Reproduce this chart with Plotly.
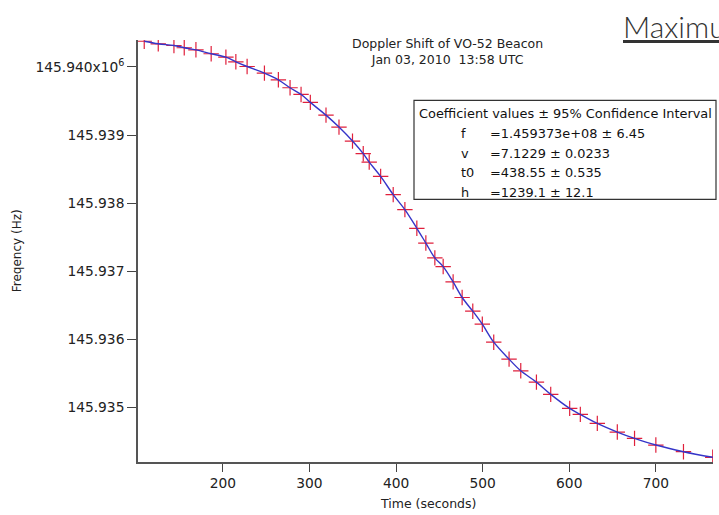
import plotly.graph_objects as go

time_s = [109.2, 125.4, 143.5, 155.4, 168.9, 186.5, 203.5, 215.0, 228.0, 248.0,
          264.1, 277.6, 290.3, 301.0, 319.1, 334.1, 349.7, 362.1, 369.0, 382.2,
          396.7, 410.2, 424.0, 434.4, 444.8, 454.4, 465.9, 476.3, 488.6, 499.6,
          512.8, 530.5, 544.0, 562.1, 578.6, 600.5, 612.8, 632.4, 655.5, 675.4,
          700.0, 731.9, 765.7]
freq_hz = [145940378, 145940340, 145940315, 145940282, 145940252, 145940194,
           145940144, 145940076, 145940007, 145939909, 145939812, 145939695,
           145939597, 145939480, 145939293, 145939117, 145938912, 145938727,
           145938604, 145938394, 145938126, 145937906, 145937632, 145937415,
           145937197, 145937070, 145936845, 145936616, 145936415, 145936224,
           145935960, 145935711, 145935540, 145935374, 145935194, 145934988,
           145934900, 145934768, 145934641, 145934548, 145934450, 145934352,
           145934270]

x_ticks = [200, 300, 400, 500, 600, 700]
y_ticks = [145935000, 145936000, 145937000, 145938000, 145939000, 145940000]
y_ticktext = ["145.935", "145.936", "145.937", "145.938", "145.939",
              "145.940x10<sup>6</sup>"]

title_lines = ["Doppler Shift of VO-52 Beacon", "Jan 03, 2010  13:58 UTC"]
coef_header = "Coefficient values \u00b1 95% Confidence Interval"
coef_names = ["f", "v", "t0", "h"]
coef_values = ["=1.459373e+08 \u00b1 6.45", "=7.1229 \u00b1 0.0233",
               "=438.55 \u00b1 0.535", "=1239.1 \u00b1 12.1"]

FONT = "DejaVu Sans"
W, H = 719, 515
L, R, T, B = 138, 6, 39.5, 53
pw = W - L - R
ph = H - T - B


def px(xp):
    return (xp - L) / pw


def py(yp):
    return (H - B - yp) / ph


fig = go.Figure()
fig.add_trace(go.Scatter(
    x=time_s, y=freq_hz, mode="markers",
    marker=dict(symbol="cross-thin", size=11,
                line=dict(color="#e0203c", width=1.2)),
    showlegend=False, hoverinfo="x+y"))
fig.add_trace(go.Scatter(
    x=time_s, y=freq_hz, mode="lines",
    line=dict(color="#3535c8", width=1.4, shape="spline"),
    showlegend=False, hoverinfo="skip"))

fig.update_layout(
    width=W, height=H,
    margin=dict(l=L, r=R, t=T, b=B),
    paper_bgcolor="white", plot_bgcolor="white",
    font=dict(family=FONT, size=13, color="#222"),
    xaxis=dict(range=[102, 766], tickvals=x_ticks, ticks="outside",
               ticklen=8, tickwidth=1.3, tickcolor="#444",
               showline=True, linecolor="#555", linewidth=1.6,
               showgrid=False, zeroline=False,
               tickfont=dict(size=13.8, family=FONT, color="#222")),
    yaxis=dict(range=[145934201, 145940396], tickvals=y_ticks,
               ticktext=y_ticktext, ticks="outside", ticklen=9,
               tickwidth=1.3, tickcolor="#444",
               showline=True, linecolor="#555", linewidth=1.6,
               showgrid=False, zeroline=False,
               tickfont=dict(size=13.8, family=FONT, color="#222")),
)

ann = []
# title
ann.append(dict(text="<br>".join(title_lines), x=px(447), y=py(51),
                xref="paper", yref="paper", showarrow=False,
                xanchor="center", yanchor="middle", align="center",
                font=dict(size=12.5, family=FONT, color="#222")))
# axis titles
ann.append(dict(text="Time (seconds)", x=px(428), y=py(504), xref="paper",
                yref="paper", showarrow=False, xanchor="center",
                yanchor="middle", font=dict(size=12.5, family=FONT, color="#222")))
ann.append(dict(text="Freqency (Hz)", x=px(17), y=py(251), xref="paper",
                yref="paper", showarrow=False, xanchor="center",
                yanchor="middle", textangle=-90,
                font=dict(size=12, family=FONT, color="#222")))
# coefficient box
ann.append(dict(text=coef_header, x=px(416.5), y=py(112.7), xref="paper",
                yref="paper", showarrow=False, xanchor="left",
                yanchor="middle", font=dict(size=12.9, family=FONT, color="#111")))
row_y = [132.8, 152.8, 172.0, 191.7]
for name, val, yy in zip(coef_names, coef_values, row_y):
    ann.append(dict(text=name, x=px(459), y=py(yy), xref="paper",
                    yref="paper", showarrow=False, xanchor="left",
                    yanchor="middle", font=dict(size=12.9, family=FONT, color="#111")))
    ann.append(dict(text=val, x=px(487.5), y=py(yy), xref="paper",
                    yref="paper", showarrow=False, xanchor="left",
                    yanchor="middle", font=dict(size=12.9, family=FONT, color="#111")))
# slide heading (cut off at the right edge)
ann.append(dict(text="<u>Maximum</u>", x=px(621), y=py(25), xref="paper",
                yref="paper", showarrow=False, xanchor="left",
                yanchor="middle",
                font=dict(size=30, family="Lato", color="#333", weight=300)))
fig.update_layout(annotations=ann)

fig.add_shape(type="rect", xref="paper", yref="paper",
              x0=px(414), x1=px(716), y0=py(199), y1=py(100),
              line=dict(color="#333", width=1.2), fillcolor="rgba(0,0,0,0)")

fig.write_html("out.html", config={"displayModeBar": False},
               post_script="document.body.style.margin='0px';")
